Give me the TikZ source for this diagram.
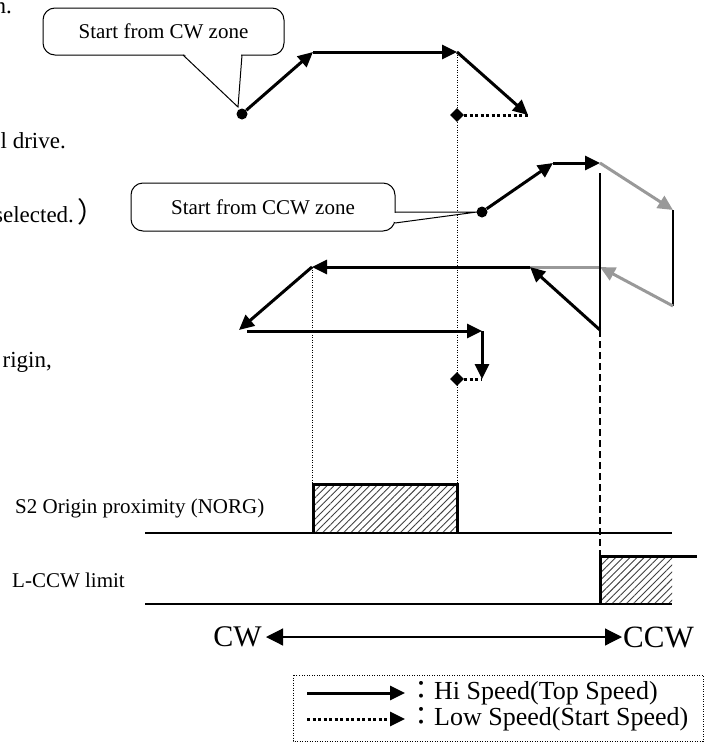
\documentclass[tikz,border=0pt]{standalone}
\usepackage{fontspec}
\setmainfont{Liberation Serif}
\newfontfamily\cjk{Noto Sans CJK JP}
\usetikzlibrary{arrows.meta, shapes.geometric, patterns.meta}

\begin{document}
\begin{tikzpicture}[
  x=1pt, y=-1pt,
  every node/.style={font=\fontsize{21}{25}\selectfont, inner sep=0pt},
  hi/.style={-{Triangle[length=15pt, width=14pt]}, line width=3pt},
  lo/.style={line width=3pt, dash pattern=on 3pt off 2.5pt},
  dot/.style={circle, fill, minimum size=11pt},
  dmd/.style={diamond, fill, minimum size=14pt},
  guide/.style={line width=0.9pt, dash pattern=on 1pt off 1.5pt},
  base/.style={line width=1.4pt},
  hatch/.style={pattern={Lines[angle=45, distance=5pt, line width=0.9pt]},
                pattern color=black!75},
  note/.style={draw, line width=1pt, rounded corners=12pt, fill=white},
  frag/.style={font=\fontsize{23}{27}\selectfont, anchor=base east}
]
\useasboundingbox (0,0) rectangle (706,742);
% ── Text cut off at the left ───────────────────
\node[frag] (f1) at (12,13) {n.};
\node[frag] (f2) at (66,148) {l drive.};
\node[frag] (f3) at (106,222) {selected.\,{\cjk\fontsize{28}{30}\selectfont ）}};
\node[frag] (f4) at (52,367) {rigin,};
% ── Guides ─────────────────────────────────────
\draw[guide] (457,52) -- (457,484);
\draw[guide] (312,267) -- (312,484);
% ── Start from CW zone ─────────────────────────
\node[note, minimum width=241pt, minimum height=47pt] (cwnote) at (163.5,31.5) {Start from CW zone};
\coordinate (cwtip) at (238,107);
\fill[white] (184,54) -- (cwtip) -- (241,54) -- cycle;
\draw[line width=1pt] (183,55) -- (cwtip) -- (242,55);
\node[dot] (cws) at (242,114) {};
\coordinate (cwa) at (313,52);
\coordinate (cwb) at (457,52);
\coordinate (cwc) at (528,115);
\node[dmd] (cwo) at (457,115) {};
\draw[hi] (cws) -- (cwa);
\draw[hi] (cwa) -- (cwb);
\draw[hi] (cwb) -- (cwc);
\draw[lo] (cwo) -- (cwc);
% ── Start from CCW zone ────────────────────────
\node[note, minimum width=264pt, minimum height=48pt] (ccwnote) at (263,207) {Start from CCW zone};
\coordinate (ccwtip) at (477,212);
\fill[white] (394,213) -- (ccwtip) -- (394,222) -- cycle;
\draw[line width=1pt] (395,212) -- (ccwtip) -- (395,223);
\node[dot] (ccws) at (482,212) {};
\coordinate (ca) at (553,163);
\coordinate (cb) at (600,163);
\coordinate (cc) at (673,210);
\coordinate (cd) at (673,306);
\coordinate (ce) at (600,267);
\coordinate (cf) at (530,267);
\coordinate (cg) at (312,267);
\coordinate (ch) at (600,330);
\coordinate (ci) at (239,330);
\coordinate (cl) at (247,331);
\coordinate (cj) at (482,331);
\coordinate (ck) at (482,379);
\node[dmd] (cko) at (457,379) {};
\draw[hi] (ccws) -- (ca);
\draw[hi] (ca) -- (cb);
\draw[hi, gray!80] (cb) -- (cc);
\draw[line width=1.2pt] (cc) -- (cd);
\draw[hi, gray!80] (cd) -- (ce);
\draw[line width=3pt, gray!80] (ce) -- (cf);
\draw[line width=2.2pt] (600,173) -- (ch);
\draw[hi] (ch) -- (cf);
\draw[hi] (cf) -- (cg);
\draw[hi] (cg) -- (ci);
\draw[hi] (cl) -- (cj);
\draw[hi] (cj) -- (ck);
\draw[lo] (cko) -- (ck);
\draw[line width=1.3pt, dash pattern=on 7pt off 4pt] (ch) -- (600,556);
% ── Sensors ────────────────────────────────────
\node[anchor=west] (norglbl) at (15,508) {S2 Origin proximity (NORG)};
\node[anchor=west] (limlbl) at (12,580) {L-CCW limit};
\fill[hatch] (313,484) rectangle (457,533);
\draw[line width=3pt] (313,533) -- (313,484) -- (457,484) -- (457,533);
\draw[base] (145,533) -- (672,533);
\fill[hatch] (600,556) rectangle (672,604);
\draw[line width=3pt] (600,604) -- (600,556) -- (697,556);
\draw[base] (145,604) -- (672,604);
% ── Direction ──────────────────────────────────
\node[anchor=east, font=\fontsize{30}{34}\selectfont, inner sep=4pt] (cwlbl) at (266,637) {CW};
\node[anchor=west, font=\fontsize{31}{34}\selectfont, inner sep=1pt] (ccwlbl) at (622,637) {CCW};
\draw[{Triangle[length=17pt, width=17pt]}-{Triangle[length=17pt, width=17pt]}, line width=1.2pt] (cwlbl) -- (ccwlbl);
% ── Legend ─────────────────────────────────────
\draw[line width=1pt, dash pattern=on 1pt off 1.5pt] (293,675) rectangle (703,741);
\coordinate (hia) at (307,693);
\coordinate (hib) at (405,693);
\coordinate (loa) at (307,719);
\coordinate (lob) at (405,719);
\draw[hi] (hia) -- (hib);
\draw[lo, -{Triangle[length=15pt, width=14pt]}] (loa) -- (lob);
\node[anchor=west, font=\fontsize{26}{30}\selectfont] (hitxt) at (408,693) {{\cjk ：}Hi Speed(Top Speed)};
\node[anchor=west, font=\fontsize{26}{30}\selectfont] (lotxt) at (408,719) {{\cjk ：}Low Speed(Start Speed)};
\end{tikzpicture}
\end{document}
